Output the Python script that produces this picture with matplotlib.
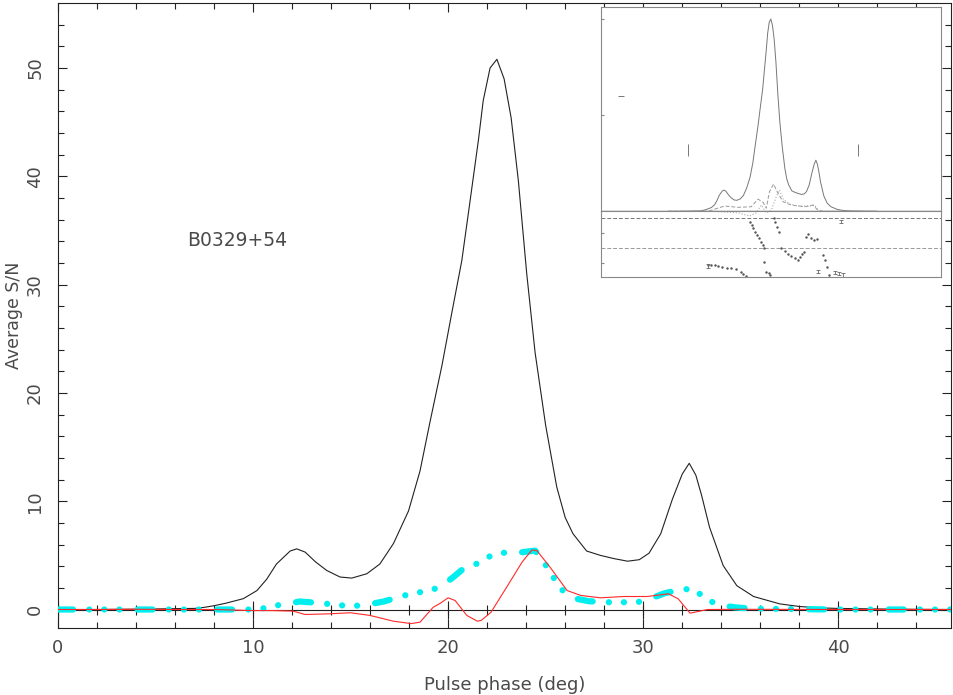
import numpy as np
import matplotlib
matplotlib.use("Agg")
import matplotlib.pyplot as plt

# main profile data (phase in deg, average S/N)
I_phase = [0, 1, 2, 3, 4, 5, 6, 7, 7.5, 8, 8.6, 9.5, 10.2, 10.7, 11.2, 11.9,
           12.24, 12.67, 13.2, 13.78, 14.46, 15.06, 15.83, 16.5, 17.2, 17.97,
           18.56, 19.08, 19.68, 20.2, 20.7, 21.1, 21.55, 21.8, 22.15, 22.5,
           22.87, 23.23, 23.6, 24.03, 24.46, 25.0, 25.57, 26.0, 26.4, 27.1,
           27.8, 28.5, 29.2, 29.8, 30.3, 30.9, 31.5, 32.0, 32.36, 32.7, 33.0,
           33.4, 34.1, 34.8, 35.66, 37.0, 38.0, 39.0, 40.0, 42.0, 44.0, 45.8]
I_val = [0.0, 0.0, 0.0, 0.02, 0.03, 0.05, 0.08, 0.1, 0.2, 0.35, 0.58, 1.0,
         1.75, 2.8, 4.2, 5.4, 5.6, 5.3, 4.4, 3.6, 3.0, 2.9, 3.3, 4.2, 6.1, 9.1,
         12.8, 17.4, 22.5, 27.5, 32.2, 37.4, 43.3, 47.0, 50.0, 50.8, 49.0, 45.4,
         39.6, 31.0, 23.7, 17.0, 11.3, 8.5, 7.0, 5.4, 5.0, 4.7, 4.46, 4.6, 5.2,
         7.0, 10.2, 12.5, 13.5, 12.4, 10.5, 7.6, 4.06, 2.2, 1.2, 0.52, 0.28,
         0.15, 0.1, 0.05, 0.02, 0.0]

L_phase = [0, 10, 10.5, 11.2, 12.4, 13.4, 15.0, 15.8, 16.7, 18.05, 18.9, 19.6,
           20.27, 20.87, 21.55, 22.2, 23.0, 23.8, 24.46, 24.97, 25.5, 26.0,
           26.6, 27.2, 28.05, 28.8, 29.7, 30.36, 31.1, 31.9, 32.6, 33.2, 33.86,
           34.7, 35.4, 37.0, 40.0, 45.8]
L_val = [0.0, 0.0, 0.1, 0.37, 0.74, 0.6, 0.3, 0.43, 0.74, 1.44, 1.7, 2.06,
         3.0, 3.9, 4.27, 4.98, 5.29, 5.29, 5.44, 4.2, 2.68, 1.45, 0.98, 0.77,
         0.67, 0.67, 0.67, 1.0, 1.5, 1.85, 1.9, 0.98, 0.43, 0.2, 0.1, 0.05,
         0.0, 0.0]

V_phase = [0, 2, 4, 6, 8, 10, 11, 12.05, 12.67, 13.9, 15.0, 16.0, 17.2, 18.1,
           18.56, 19.23, 19.6, 20.0, 20.36, 20.96, 21.5, 21.7, 22.2, 23.0, 23.8,
           24.3, 24.55, 25.23, 26.1, 26.8, 27.8, 29.0, 30.2, 31.3, 31.8, 32.4,
           32.9, 33.3, 35.0, 40.0, 45.8]
V_val = [0.0, 0.0, 0.02, 0.0, 0.0, -0.1, -0.1, -0.15, -0.46, -0.4, -0.3, -0.55,
         -1.08, -1.3, -1.17, 0.2, 0.58, 1.08, 0.83, -0.55, -1.08, -1.0, -0.25,
         2.06, 4.4, 5.5, 5.44, 3.9, 1.75, 1.3, 1.08, 1.2, 1.2, 1.45, 0.98,
         -0.34, -0.15, 0.0, 0.02, 0.0, 0.0]

# inset: polarisation profiles
inL_phase = [0, 8.7, 12.4, 15.3, 18.2, 19.7, 20.8, 21.5, 22.2, 23.1, 24.06,
             25.2, 26.96, 29.9, 31.7, 32.8, 34.0, 45.8]
inL_val = [0, 0, 1.4, 1.05, 1.2, 3.2, 2.4, 0.8, 5.2, 7.2, 4.75, 2.5, 1.66, 1.2,
           1.66, 0.3, 0, 0]
inV_phase = [0, 10.0, 15.3, 17.9, 19.3, 20.4, 21.5, 22.6, 23.7, 24.4, 25.2,
             26.6, 28.4, 31.3, 32.0, 33.0, 45.8]
inV_val = [0, 0, -0.4, -1.24, -0.4, 1.66, -0.4, 0.3, 3.9, 5.6, 3.2, 1.9, 1.4,
           1.4, 1.7, 0, 0]

# inset: position angle (deg)
pa_phase = [8.7, 9.5, 10.3, 11.0, 11.8, 12.9, 13.7, 14.8, 15.9, 16.5, 17.0,
            17.9, 18.3, 18.7, 19.1, 19.5, 19.9, 20.3, 20.7, 21.0, 21.1, 21.5,
            22.0, 22.4, 23.1, 23.5, 23.9, 24.3, 24.8, 25.5, 26.3, 27.0, 27.7,
            28.4, 28.9, 29.4, 29.7, 30.2, 30.7, 31.3, 32.0, 32.6, 33.9, 34.4,
            34.8, 35.3]
pa_val = [-95, -96, -95, -98, -101, -104, -104, -108, -115, -122, -128,
          35, 25, 15, 5, -5, -15, -25, -35, -45, -85, -116, -120, -125,
          45, 33, 19, 5, -45, -53, -61, -68, -75, -80, -72, -62, -55,
          -10, -2, -15, -20, -18, -65, -80, -100, -125]
pa_err_phase = [8.7, 32.8, 36.5, 37.4, 38.2, 37.8]
pa_err_val = [-98, -115, -117, -120, -125, 35]
win_phase = [4.4, 41.6]
win_val = [16.2, 16.2]

fig = plt.figure(figsize=(9.54, 6.95), dpi=100)
ax = fig.add_axes([58 / 954, (695 - 627.7) / 695, (951 - 58) / 954, (627.7 - 3) / 695])

ink = "#222222"
txt = "#4a4a4a"
ax.axhline(0, color=ink, lw=0.8, zorder=1)
xt_minor = np.arange(0, 46, 2)
xt_major = np.arange(0, 46, 10)
ax.plot(xt_minor, np.zeros(len(xt_minor)), "|", color=ink, ms=6.5, mew=0.8, zorder=1)
ax.plot(xt_major, np.zeros(len(xt_major)), "|", color=ink, ms=13, mew=0.8, zorder=1)

ax.plot(I_phase, I_val, color=ink, lw=0.8, zorder=2)
cy, = ax.plot(L_phase, L_val, color="#00eeee", lw=4.5, zorder=3,
              solid_capstyle="round", dash_capstyle="round")
cy.set_dashes([2.4, 2.6, 0.01, 2.4, 0.01, 2.4, 0.01, 2.9])
ax.plot(V_phase, V_val, color="#ff2a2a", lw=0.8, zorder=4)

ax.set_xlim(0, 45.78)
ax.set_ylim(-1.68, 56.0)
ax.set_xticks(xt_major)
ax.set_xticks(xt_minor, minor=True)
ax.set_yticks(np.arange(0, 51, 10))
ax.set_yticks(np.arange(0, 56, 2), minor=True)
ax.tick_params(which="both", direction="in", top=True, right=True, color=ink,
               width=0.8, labelsize=13, labelcolor=txt)
ax.tick_params(which="major", length=6.5, pad=8)
ax.tick_params(which="minor", length=4)
ax.tick_params(axis="y", labelrotation=90, pad=10)
for lab in ax.get_yticklabels():
    lab.set_va("center")
for s in ax.spines.values():
    s.set_color(ink)
    s.set_linewidth(0.8)

ax.set_xlabel("Pulse phase (deg)", fontsize=13, color=txt)
ax.xaxis.set_label_coords(0.5, -0.077)
ax.set_ylabel("Average S/N", fontsize=12.5, color=txt)
ax.yaxis.set_label_coords(-0.039, 0.5)
ax.text(6.6, 34.1, "B0329+54", fontsize=13.5, color=txt, va="center", ha="left")

# inset
grey = "#888888"
axu = fig.add_axes([601.3 / 954, (695 - 211.3) / 695, 340 / 954, 204 / 695])
axl = fig.add_axes([601.3 / 954, (695 - 276.7) / 695, 340 / 954, 65.4 / 695])
axl.set_facecolor("none")

axu.axhline(0, color="#666666", lw=1.0)
axu.plot(I_phase, I_val, color="#777777", lw=0.7)
axu.plot(inL_phase, inL_val, color="#999999", lw=0.7, ls=(0, (4, 2)), clip_on=False)
axu.plot(inV_phase, inV_val, color="#aaaaaa", lw=0.8, ls=":", clip_on=False)
axu.plot(win_phase, win_val, "|", color="#777777", ms=8, mew=0.7)
axu.plot([-10.3], [30.5], "_", color="#777777", ms=4, mew=0.7)
axu.set_xlim(-14.6, 59.8)
axu.set_ylim(0, 53.9)
axu.set_xticks([])
axu.set_yticks([max(I_val) / 2, max(I_val)])
axu.tick_params(axis="y", direction="in", length=2, color=grey, labelleft=False)

axl.axhline(45, color="#777777", lw=0.7, ls=(0, (4, 2)))
axl.axhline(-45, color="#999999", lw=0.7, ls=(0, (4, 2)))
axl.plot(pa_phase, pa_val, ".", color="#555555", ms=1.5)
axl.errorbar(pa_err_phase, pa_err_val, yerr=5, fmt="none", ecolor="#666666",
             elinewidth=0.6, capsize=1.2, capthick=0.6)
axl.set_xlim(-14.6, 59.8)
axl.set_ylim(-130, 66)
axl.set_xticks([])
axl.set_yticks([0, -90])
axl.tick_params(axis="y", direction="in", length=2, color=grey, labelleft=False)

for a in (axu, axl):
    for s in a.spines.values():
        s.set_color(grey)
        s.set_linewidth(0.8)
axl.spines["top"].set_visible(False)

fig.savefig("out.png", dpi=100)
